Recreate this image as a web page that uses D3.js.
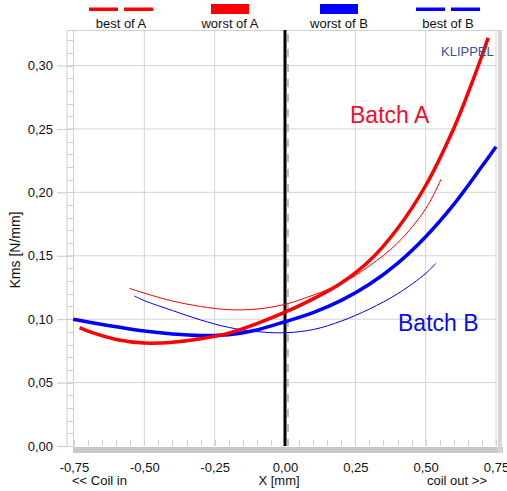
<!DOCTYPE html>
<html><head><meta charset="utf-8">
<script src="https://cdn.jsdelivr.net/npm/d3@7"></script>
<style>body{margin:0;background:#fff}svg{display:block;font-family:"Liberation Sans",Arial,sans-serif}</style>
</head><body><svg id="c" width="507" height="491"></svg>
<script>
// ---- data ----
const bestA_x = [-0.553,-0.5,-0.4,-0.3,-0.2,-0.1,0,0.1,0.2,0.3,0.4,0.5,0.555];
const bestA_y = [0.1243,0.1205,0.1143,0.1100,0.1075,0.1080,0.1117,0.1190,0.1280,0.1420,0.1600,0.1870,0.2105];
const worstA_x = [-0.73,-0.7,-0.6,-0.5,-0.4,-0.3,-0.2,-0.1,0,0.1,0.2,0.3,0.4,0.5,0.6,0.65,0.7,0.722];
const worstA_y = [0.0933,0.0905,0.0840,0.0812,0.0818,0.0845,0.0890,0.0965,0.1055,0.1160,0.1285,0.1460,0.1715,0.2054,0.2506,0.2780,0.3077,0.3218];
const worstB_x = [-0.753,-0.7,-0.6,-0.5,-0.4,-0.3,-0.2,-0.1,0,0.1,0.2,0.3,0.4,0.5,0.6,0.7,0.75];
const worstB_y = [0.1000,0.0978,0.0940,0.0906,0.0884,0.0872,0.0878,0.0915,0.0980,0.1052,0.1148,0.1275,0.1440,0.1650,0.1905,0.2205,0.2360];
const bestB_x = [-0.536,-0.5,-0.4,-0.3,-0.2,-0.1,0,0.1,0.2,0.3,0.4,0.5,0.536];
const bestB_y = [0.1183,0.1146,0.1068,0.0994,0.0935,0.0902,0.0893,0.0918,0.0985,0.1080,0.1200,0.1360,0.1440];
const legendLabels = ["best of A","worst of A","worst of B","best of B"];
const xTicks = [-0.75,-0.5,-0.25,0,0.25,0.5,0.75];
const yTicks = [0,0.05,0.10,0.15,0.20,0.25,0.30];

const svg = d3.select("#c");
const x = d3.scaleLinear().domain([-0.75,0.75]).range([74,496]);
const y = d3.scaleLinear().domain([0,0.328]).range([446,30]);
const fmt = (d,n)=>d.toFixed(n).replace(".",",");
const L = 74, R = 496, T = 30, B = 446;

// gridlines
svg.append("g").selectAll("line").data(xTicks.slice(1)).join("line")
  .attr("x1",d=>x(d)).attr("x2",d=>x(d)).attr("y1",T).attr("y2",B)
  .attr("stroke","#d4d4d4").attr("stroke-width",1);
svg.append("g").selectAll("line").data(yTicks.slice(1)).join("line")
  .attr("x1",67).attr("x2",R).attr("y1",d=>y(d)).attr("y2",d=>y(d))
  .attr("stroke","#d4d4d4").attr("stroke-width",1);

// frame: left strip, top line, bottom bar, right bar
svg.append("line").attr("x1",67).attr("x2",67).attr("y1",T).attr("y2",B).attr("stroke","#d0d0d0");
svg.append("line").attr("x1",L-0.5).attr("x2",L-0.5).attr("y1",T).attr("y2",B+6).attr("stroke","#d0d0d0");
svg.append("line").attr("x1",67).attr("x2",502).attr("y1",T+0.5).attr("y2",T+0.5).attr("stroke","#d0d0d0");
svg.append("g").selectAll("line").data(d3.range(0,33).map(i=>i*0.01)).join("line")
  .attr("x1",67).attr("x2",L).attr("y1",d=>Math.round(y(d))+0.5).attr("y2",d=>Math.round(y(d))+0.5)
  .attr("stroke","#d0d0d0");
svg.append("g").selectAll("line").data(d3.range(-15,16).map(i=>i*0.05)).join("line")
  .attr("x1",d=>Math.round(x(d))+0.5).attr("x2",d=>Math.round(x(d))+0.5).attr("y1",440).attr("y2",B)
  .attr("stroke","#d0d0d0");
svg.append("rect").attr("x",L-1).attr("y",B+1).attr("width",503-L+1).attr("height",6).attr("fill","#c8c8c8");
svg.append("rect").attr("x",498).attr("y",T).attr("width",4).attr("height",B-T+7).attr("fill","#d6d6d6");

// axes
const yAxis = svg.append("g").attr("transform","translate(67,0)")
  .call(d3.axisLeft(y).tickValues(yTicks).tickSize(10).tickPadding(4).tickFormat(d=>fmt(d,2)));
yAxis.select(".domain").remove();
yAxis.selectAll("line").attr("stroke","#c8c8c8");
yAxis.selectAll("text").attr("font-size",13).attr("fill","#111").attr("font-family","Liberation Sans, Arial, sans-serif");
const xAxis = svg.append("g").attr("transform","translate(0,452)")
  .call(d3.axisBottom(x).tickValues(xTicks).tickSize(0).tickPadding(10.3).tickFormat(d=>fmt(d,2)));
xAxis.select(".domain").remove();
xAxis.selectAll("text").attr("font-size",13).attr("fill","#111").attr("font-family","Liberation Sans, Arial, sans-serif");

// zero line + dashed
svg.append("line").attr("x1",x(0)).attr("x2",x(0)).attr("y1",T).attr("y2",B).attr("stroke","#000").attr("stroke-width",3);
svg.append("line").attr("x1",x(0)+3).attr("x2",x(0)+3).attr("y1",T+4).attr("y2",B).attr("stroke","#bdbdbd").attr("stroke-width",2).attr("stroke-dasharray","8,7");

// curves
const line = d3.line().x(d=>x(d[0])).y(d=>y(d[1])).curve(d3.curveCatmullRom);
const series = [
  {xs:bestA_x, ys:bestA_y, c:"#ff0000", w:1},
  {xs:bestB_x, ys:bestB_y, c:"#0000ff", w:1},
  {xs:worstB_x, ys:worstB_y, c:"#0000ff", w:3.5},
  {xs:worstA_x, ys:worstA_y, c:"#ff0000", w:3.5}
];
series.forEach(s=>{
  svg.append("path").attr("d",line(s.xs.map((v,i)=>[v,s.ys[i]])))
    .attr("fill","none").attr("stroke",s.c).attr("stroke-width",s.w);
});

// legend
const leg = [
  {cx:121, c:"#ff0000", type:"dash"},
  {cx:230, c:"#ff0000", type:"rect"},
  {cx:339, c:"#0000ff", type:"rect"},
  {cx:448, c:"#0000ff", type:"dash"}
];
leg.forEach((l,i)=>{
  const g = svg.append("g");
  if(l.type==="rect"){
    g.append("rect").attr("x",l.cx-19).attr("y",4).attr("width",38).attr("height",10).attr("fill",l.c);
  } else {
    g.append("rect").attr("x",l.cx-32).attr("y",7.5).attr("width",29).attr("height",3.5).attr("fill",l.c);
    g.append("rect").attr("x",l.cx+3).attr("y",7.5).attr("width",29).attr("height",3.5).attr("fill",l.c);
  }
  g.append("text").attr("x",l.cx).attr("y",27.5).attr("text-anchor","middle")
    .attr("font-size",13).attr("fill","#111").text(legendLabels[i]);
});

// labels
svg.append("text").attr("x",441).attr("y",55.5).attr("font-size",13).attr("fill","#3a4fa0").text("KLIPPEL");
svg.append("text").attr("x",350).attr("y",123).attr("font-size",23).attr("fill","#f0102e").text("Batch A");
svg.append("text").attr("x",398).attr("y",331).attr("font-size",23).attr("fill","#0a0af0").text("Batch B");
svg.append("text").attr("x",72).attr("y",485).attr("font-size",13).attr("fill","#111").text("<< Coil in");
svg.append("text").attr("x",279).attr("y",485).attr("text-anchor","middle").attr("font-size",13).attr("fill","#111").text("X [mm]");
svg.append("text").attr("x",487).attr("y",485).attr("text-anchor","end").attr("font-size",13).attr("fill","#111").text("coil out >>");
svg.append("text").attr("transform","translate(20,250) rotate(-90)").attr("text-anchor","middle")
  .attr("font-size",14).attr("fill","#111").text("Kms [N/mm]");
</script></body></html>
